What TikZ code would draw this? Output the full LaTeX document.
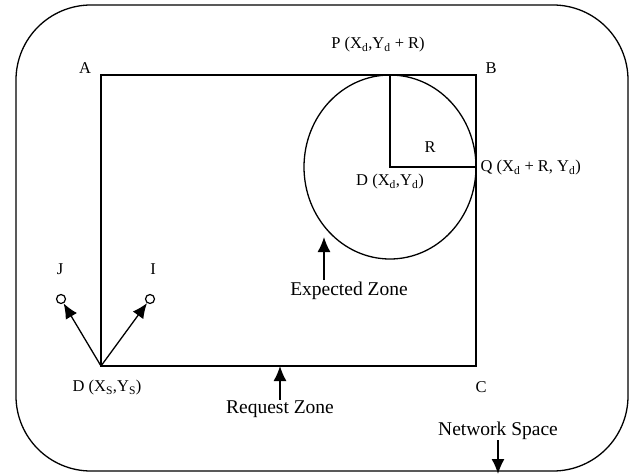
\documentclass[tikz,border=0pt]{standalone}
\usepackage{fontspec}
\setmainfont{Liberation Serif}
\usetikzlibrary{arrows.meta}

\tikzset{
  lbl/.style={inner sep=0pt, font=\fontsize{16.5}{18}\selectfont},
  zone/.style={inner sep=0pt, font=\fontsize{19.5}{22}\selectfont},
  pointer/.style={line width=1.3pt, -{Latex[length=15pt,width=13pt]}},
  hole/.style={circle, draw, line width=1.2pt, minimum size=9pt, inner sep=0pt}
}

\begin{document}
\begin{tikzpicture}[x=1pt, y=-1pt, line width=1.3pt]
                    \useasboundingbox (0,0) rectangle (634,474);
                    % Network space
                    \draw[rounded corners=75pt] (16,5) rectangle (628,471);
                    % Corners
                    \coordinate (A) at (101,75);
                    \coordinate (B) at (476,75);
                    \coordinate (C) at (476,366);
                    \coordinate (S) at (101,366);
                    \coordinate (Dd) at (390,167);
                    \coordinate (P) at (390,75);
                    \coordinate (Q) at (476,167);
                    % Nodes
                    \node[lbl] (lA) at (85,68) {A};
                    \node[lbl] (lB) at (491,68) {B};
                    \node[lbl] (lC) at (481,387) {C};
                    \node[lbl] (lS) at (107,388) {D (X\textsubscript{S},Y\textsubscript{S})};
                    \node[lbl] (lP) at (378,45) {P (X\textsubscript{d},Y\textsubscript{d} + R)};
                    \node[lbl, anchor=west] (lQ) at (480,168) {Q (X\textsubscript{d} + R, Y\textsubscript{d})};
                    \node[lbl] (lD) at (390,182) {D (X\textsubscript{d},Y\textsubscript{d})};
                    \node[lbl] (lR) at (430,147) {R};
                    \node[lbl] (lJ) at (60,269) {J};
                    \node[lbl] (lI) at (153,269) {I};
                    \node[hole] (J) at (61,299) {};
                    \node[hole] (I) at (150,299) {};
                    \node[zone] (ez) at (349,291) {Expected Zone};
                    \node[zone] (rz) at (280,409) {Request Zone};
                    \node[zone] (ns) at (498,431) {Network Space};
                    \coordinate (ezt) at (324,237);
                    \coordinate (rzt) at (280,366);
                    \coordinate (nst) at (498,474);
                    % Edges
                    \draw (A) -- (B) -- (C) -- (S) -- cycle;
                    \draw (Dd) ellipse [x radius=86pt, y radius=92pt];
                    \draw (P) -- (Dd) -- (Q);
                    \draw[pointer] (S) -- (J);
                    \draw[pointer] (S) -- (I);
                    \draw[pointer] (324,280) -- (ezt);
                    \draw[pointer] (rz.north -| rzt) -- (rzt);
                    \draw[pointer] (ns.south) -- (nst);
                \end{tikzpicture}
\end{document}
